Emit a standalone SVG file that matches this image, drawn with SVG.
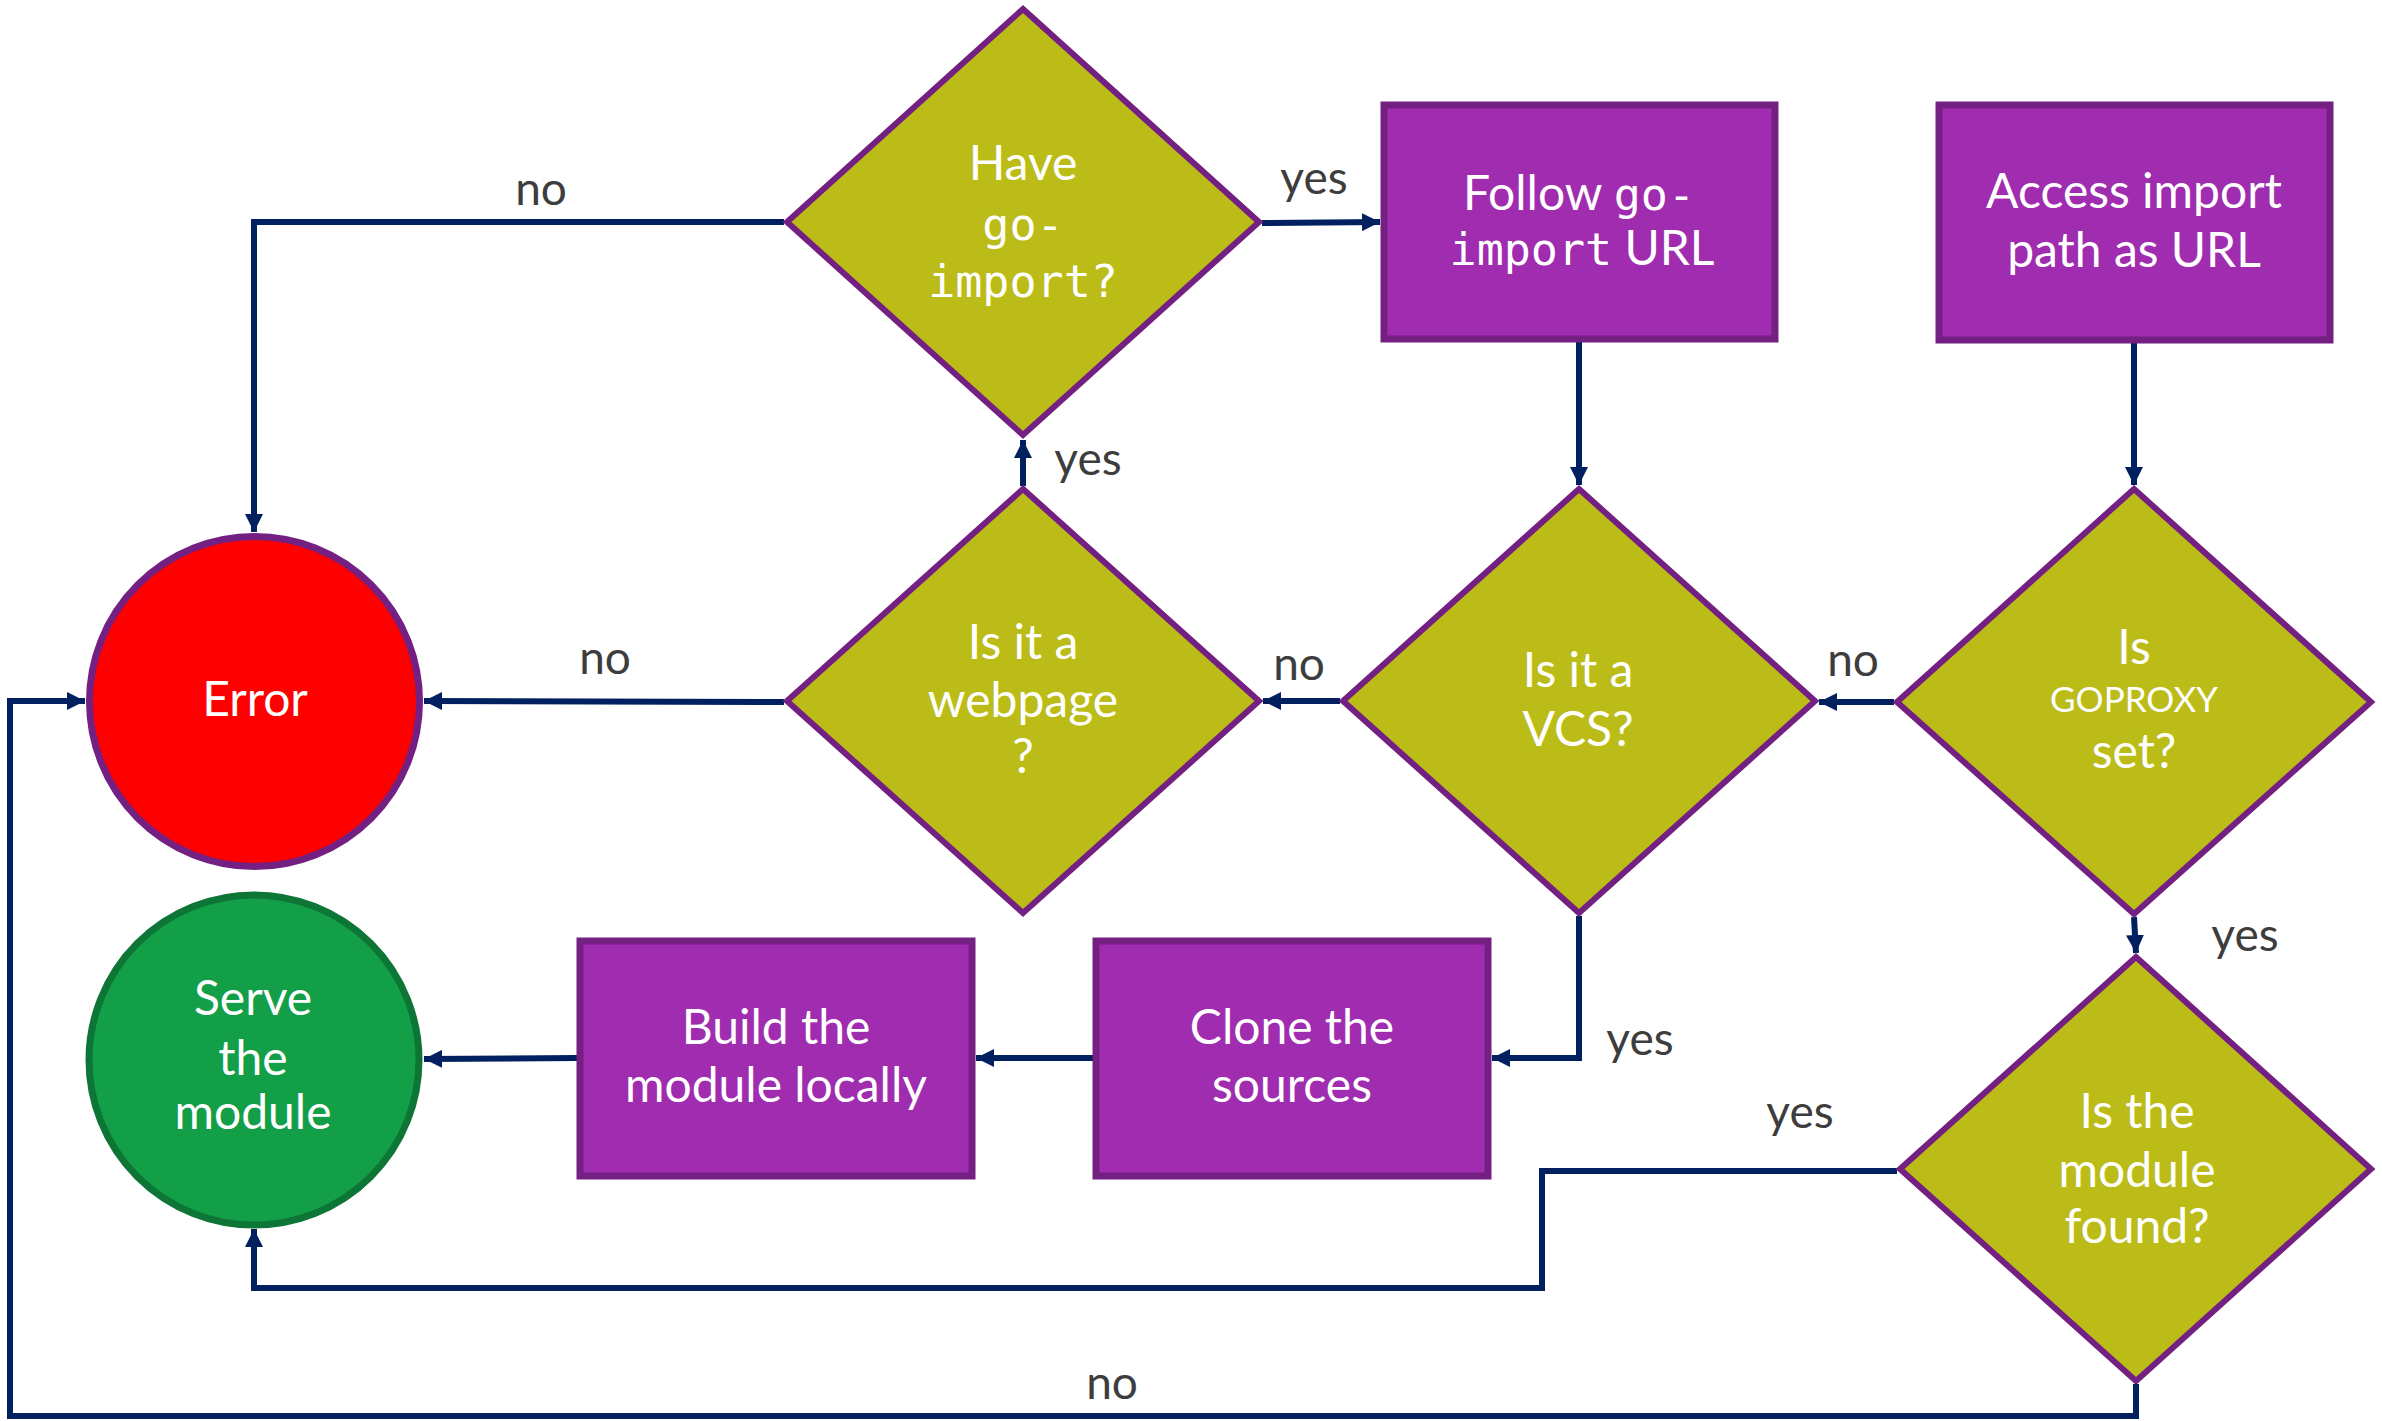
<svg xmlns="http://www.w3.org/2000/svg" width="2382" height="1421" viewBox="0 0 2382 1421">
<style>
.dia{fill:#bcbc19;stroke:#741f82;stroke-width:6;stroke-linejoin:miter}
.box{fill:#a02cb0;stroke:#741f82;stroke-width:7}
.t{fill:#ffffff;font-family:Lato,"Open Sans",sans-serif;font-size:48px;text-anchor:middle}
.m{font-family:"DejaVu Sans Mono","Liberation Mono",monospace;font-size:45px}
.lbl{fill:#3d3d3d;font-family:Lato,"Open Sans",sans-serif;font-size:46px;text-anchor:middle}
.c{fill:none;stroke:#002060;stroke-width:6;marker-end:url(#ah)}
</style>
<defs>
<marker id="ah" markerUnits="userSpaceOnUse" markerWidth="20" markerHeight="18" refX="18" refY="9" orient="auto">
<path d="M0,0 L18,9 L0,18 Z" fill="#002060"/>
</marker>
</defs>
<rect width="2382" height="1421" fill="#ffffff"/>
<g id="connectors">
<path class="c" d="M784,222 H254 V532"/>
<path class="c" d="M1262,223 L1380,222"/>
<path class="c" d="M1579,342 V485"/>
<path class="c" d="M2134,343 V485"/>
<path class="c" d="M1894,702 H1819"/>
<path class="c" d="M1340,701 H1263"/>
<path class="c" d="M784,702 L424,701"/>
<path class="c" d="M1023,486 V440"/>
<path class="c" d="M1579,916 V1058 H1492"/>
<path class="c" d="M1093,1058 H976"/>
<path class="c" d="M577,1058 L424,1059"/>
<path class="c" d="M2134,917 L2136,953"/>
<path class="c" d="M1897,1171 H1542 V1288 H254 V1229"/>
<path class="c" d="M2136,1384 V1416 H10 V701 H85"/>
<text class="lbl" x="541" y="205">no</text>
<text class="lbl" x="1314" y="194">yes</text>
<text class="lbl" x="1088" y="475">yes</text>
<text class="lbl" x="605" y="674">no</text>
<text class="lbl" x="1299" y="680">no</text>
<text class="lbl" x="1853" y="676">no</text>
<text class="lbl" x="2245" y="951">yes</text>
<text class="lbl" x="1640" y="1055">yes</text>
<text class="lbl" x="1800" y="1128">yes</text>
<text class="lbl" x="1112" y="1399">no</text>
</g>
<g id="have-go-import">
<polygon class="dia" points="1023,9 1259,222 1023,435 787,222"/>
<text class="t" x="1023" y="180">Have</text>
<text class="t m" x="1023" y="240">go-</text>
<text class="t m" x="1023" y="297">import?</text>
</g>
<g id="follow-go-import">
<rect class="box" x="1384" y="105" width="391" height="234"/>
<text class="t" x="1579" y="210">Follow <tspan class="m">go-</tspan></text>
<text class="t" x="1582" y="265"><tspan class="m">import</tspan> URL</text>
</g>
<g id="access-import-path">
<rect class="box" x="1939" y="105" width="391" height="235"/>
<text class="t" x="2134" y="208">Access import</text>
<text class="t" x="2134" y="267">path as URL</text>
</g>
<g id="error">
<circle cx="254.5" cy="701.5" r="165" fill="#ff0000" stroke="#741f82" stroke-width="7"/>
<text class="t" x="255" y="716">Error</text>
</g>
<g id="is-webpage">
<polygon class="dia" points="1023,489 1259,701 1023,913 787,701"/>
<text class="t" x="1023" y="659">Is it a</text>
<text class="t" x="1023" y="717">webpage</text>
<text class="t" x="1023" y="773">?</text>
</g>
<g id="is-vcs">
<polygon class="dia" points="1579,489 1815,701 1579,913 1343,701"/>
<text class="t" x="1578" y="687">Is it a</text>
<text class="t" x="1578" y="746">VCS?</text>
</g>
<g id="is-goproxy-set">
<polygon class="dia" points="2134,489 2371,702 2134,914 1897,702"/>
<text class="t" x="2134" y="664">Is</text>
<text class="t" x="2134" y="712" style="font-size:35px">GOPROXY</text>
<text class="t" x="2134" y="768">set?</text>
</g>
<g id="serve-module">
<circle cx="254" cy="1060" r="165" fill="#139e48" stroke="#0d7535" stroke-width="7"/>
<text class="t" x="253" y="1015">Serve</text>
<text class="t" x="253" y="1075">the</text>
<text class="t" x="253" y="1129">module</text>
</g>
<g id="build-module">
<rect class="box" x="580" y="941" width="392" height="235"/>
<text class="t" x="776" y="1044">Build the</text>
<text class="t" x="776" y="1102">module locally</text>
</g>
<g id="clone-sources">
<rect class="box" x="1096" y="941" width="392" height="235"/>
<text class="t" x="1292" y="1044">Clone the</text>
<text class="t" x="1292" y="1102">sources</text>
</g>
<g id="is-module-found">
<polygon class="dia" points="2136,957 2371,1169 2136,1381 1900,1169"/>
<text class="t" x="2137" y="1128">Is the</text>
<text class="t" x="2137" y="1187">module</text>
<text class="t" x="2137" y="1243">found?</text>
</g>
</svg>
